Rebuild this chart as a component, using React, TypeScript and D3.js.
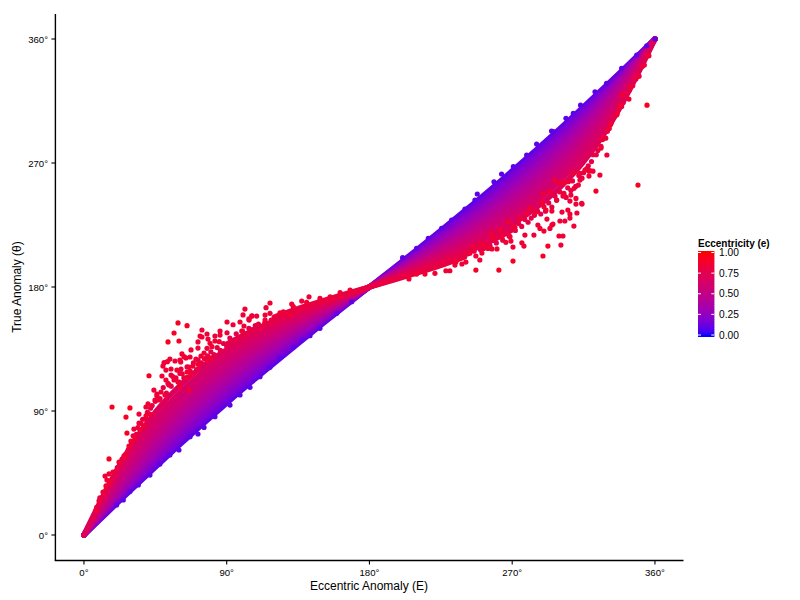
import React from "react";
import * as d3 from "d3";

// Eccentric anomaly grid (degrees) for the dense core of the cloud
const anomalyGrid = [0,10,20,30,45,60,75,90,105,120,135,150,165,180,195,210,225,240,255,270,285,300,315,330,340,350,360];

// True anomaly read along bands of equal colour (null: the band is not solid there)
const band10 = [0,11,22.1,33,49.2,65.1,80.6,95.7,110.5,124.8,138.9,152.8,166.4,180,193.6,207.2,221.1,235.2,249.5,264.3,279.4,294.9,310.8,327,337.9,349,360];
const band15 = [0,11.6,23.2,34.6,51.4,67.8,83.5,98.6,113.2,127.2,140.8,154.1,167.1,180,192.9,205.9,219.2,232.8,246.8,261.4,276.5,292.2,308.6,325.4,336.8,348.4,360];
const band20 = [0,12.2,24.4,36.3,53.8,70.5,86.4,101.5,115.9,129.5,142.6,155.3,167.7,180,192.3,204.7,217.4,230.5,244.1,258.5,273.6,289.5,306.2,323.7,335.6,347.8,360];
const band25 = [0,12.9,25.6,38.2,56.3,73.4,89.5,104.5,118.6,131.8,144.4,156.5,168.4,180,191.6,203.5,215.6,228.2,241.4,255.5,270.5,286.6,303.7,321.8,334.4,347.1,360];
const band30 = [0,13.6,27,40.1,58.9,76.4,92.6,107.5,121.2,134.1,146.2,157.8,169,180,191,202.2,213.8,225.9,238.8,252.5,267.4,283.6,301.1,319.9,333,346.4,360];
const band35 = [0,14.4,28.5,42.2,61.7,79.5,95.8,110.5,123.9,136.3,147.9,158.9,169.6,180,190.4,201.1,212.1,223.7,236.1,249.5,264.2,280.5,298.3,317.8,331.5,345.6,360];
const band40 = [0,15.2,30.1,44.5,64.6,82.8,99.1,113.6,126.7,138.6,149.7,160.1,170.1,180,189.9,199.9,210.3,221.4,233.3,246.4,260.9,277.2,295.4,315.5,329.9,344.8,360];
const band45 = [0,16.2,31.9,47,67.8,86.3,102.4,116.7,129.4,140.8,151.4,161.2,170.7,180,189.3,198.8,208.6,219.2,230.6,243.3,257.6,273.7,292.2,313,328.1,343.8,360];
const band50 = [0,17.2,34,49.8,71.3,90,106.1,120,132.2,143.1,153.1,162.4,171.3,180,188.7,197.6,206.9,216.9,227.8,240,253.9,270,288.7,310.2,326,342.8,360];
const band55 = [0,18.4,36.2,52.9,75.1,94,109.8,123.4,135.1,145.4,154.8,163.6,171.9,180,188.1,196.4,205.2,214.6,224.9,236.6,250.2,266,284.9,307.1,323.8,341.6,360];
const band60 = [0,19.9,38.9,56.4,79.3,98.2,113.8,126.9,138,147.8,156.6,164.7,172.5,180,187.5,195.3,203.4,212.2,222,233.1,246.2,261.8,280.7,303.6,321.1,340.1,360];
const band65 = [0,21.5,41.9,60.4,83.9,102.8,118.1,130.5,141.1,150.2,158.4,165.9,173.1,180,186.9,194.1,201.6,209.8,218.9,229.5,241.9,257.2,276.1,299.6,318.1,338.5,360];
const band70 = [0,23.5,45.5,65.1,89.2,107.9,122.6,134.4,144.3,152.7,160.3,167.2,173.7,180,186.3,192.8,199.7,207.3,215.7,225.6,237.4,252.1,270.8,294.9,314.5,336.5,360];
const band75 = [null,null,null,null,null,null,null,138.6,147.6,155.4,162.2,168.4,174.3,180,185.7,191.6,197.8,204.6,212.4,221.4,null,null,null,null,null,null,null];
const band80 = [null,null,null,null,null,null,null,null,null,158.2,164.3,169.8,175,180,185,190.2,195.7,201.8,null,null,null,null,null,null,null,null,null];

const bandLevels = [0.1,0.15,0.2,0.25,0.3,0.35,0.4,0.45,0.5,0.55,0.6,0.65,0.7,0.75,0.8];
const bandValues = [band10,band15,band20,band25,band30,band35,band40,band45,band50,band55,band60,band65,band70,band75,band80];

// Individually visible points: [E, theta]
const eccLow = 0.1;
const lowPoints = [
[20.6,21.8],[24.8,25.4],[29,31.5],[34.3,36.3],[41.6,43.5],[47.9,51.5],[54.2,58.1],[59.9,61.7],[66.9,71.4],[71.9,73.3],[75.7,78.1],[82.6,85.9],[92.1,94.3],[98.4,101.6],[104.7,107.2],[111,114.9],[117.3,121.7],[123.6,128.9],[132,136.2],[137.3,141.5],[142.5,144.6],[148.8,150],[159.4,160.9],[168.8,169.3],
[200.9,201.3],[209.7,208],[217.1,215.3],[225.5,222.5],[231.8,228.6],[240.2,236.6],[248,247.5],[246.5,243.1],[258.5,256.4],[263.3,262],[270.7,267.3],[279.1,275.8],[285.4,283.7],[294.8,293.2],[295.9,292.7],[303.9,302.4],[308.5,306],[313.1,312],[322.2,321.7],[329.5,327.8],[339,338.7],[348.5,348.3],[354.8,355.1],[360,360]
];

const eccEdge = 0.78;
const edgePoints = [
[6,13],[8,20],[10,27],[12,28],[14,33],[16,37],[18,40],[20,46],[21,49],[23,51],[24,55],[26,56],[28,62],[30,67],[31,72],[33,73],[34,78],[36,81],[37,84],[39,84],[40,89],[42,92],[43,94],[45,97],[46,101],[48,99],[50,107],[52,103],[53,110],[55,108],[56,115],[58,114],[60,111],[62,117],[63,114],[65,122],[67,119],[69,125],[71,120],[72,127],[74,125],[76,128],[78,130],[80,133],[82,131],[84,136],[86,134],[88,139],[90,137],[92,143],[94,140],[96,146],[98,143],[100,148],[102,146],[104,150],[106,149],[108,152],[110,153],[112,151],[114,154],[116,153],[118,156],[120,155],
[354,347],[352,340],[350,333],[348,331],[346,326],[344,323],[342,320],[340,314],[339,311],[337,309],[336,305],[334,304],[332,298],[330,293],[329,288],[327,287],[326,282],[324,279],[323,276],[321,276],[320,271],[318,268],[317,266],[315,263],[314,259],[312,261],[310,253],[308,257],[307,250],[305,252],[304,245],[302,246],[300,249],[298,243],[297,246],[295,238],[293,241],[291,235],[289,240],[288,233],[286,235],[284,232],[282,230],[280,227],[278,229],[276,224],[274,226],[272,221],[270,223],[268,217],[266,220],[264,214],[262,217],[260,212],[258,214],[256,210],[254,211],[252,208],[250,207],[248,209],[246,206],[244,207],[242,204],[240,205]
];

const eccHigh = 0.86;
const highPoints = [
[101.5,164],[100.3,159.7],[74.4,148.8],[77.6,145.9],[73.2,144.4],[74.4,143.7],[78.2,142.2],[71.9,140.1],[71.9,135.7],[67.5,134.3],[79.5,139.1],[80.7,136.7],[77.6,135.5],[82.6,144.4],[85.8,148],[85.8,145.1],[90.2,154.6],[94,152.6],[98.4,154.6],[100.9,151.7],[106,159],[104,156.8],[90.2,146.8],[82.6,140.8],[85.3,140.3],
[61.8,131.4],[63.1,129.4],[64.3,128.5],[66.9,129.2],[70.6,127.7],[73.8,129.9],[75.7,132.1],[77.6,127],[80.1,128.5],[54.2,127.7],[60.5,127],[61,125.6],[57.4,126.3],[50.5,125.1],[52.6,125.8],[49.8,122.6],[51.7,119.7],[54.9,120.5],[58.6,119.7],[61.2,120.5],[66.2,121.9],[68.7,122.6],[71.9,123.9],[49.2,115.4],[51.7,112.5],[54.9,116.1],[56.8,112.5],[60.5,117.3],[65,118.3],[67.5,117.3],[65,114.4],[53.6,108.9],[59.3,111],[60.5,107.4],[66.2,105.2],
[44.1,105.2],[46,102.3],[48.6,103.8],[51.1,101.6],[44.8,98],[47.3,98],[40.4,95.1],[39.1,92.9],[34.7,87.8],[39.1,86.4],[41.6,87.8],[34.7,81.3],[31.5,76.9],[37.9,79.1],[35.3,76.2],[32.2,70.4],[29.6,68.2],[28.4,64.6],[25.9,58.1],[22.1,53],[25.2,57.3],[18.3,45.7],[15.8,44.3],[13.3,42.8],[14.5,39.9],[16.4,39.2],[13.9,35.6],[12,31.2],[9.5,24.7],[7.6,18.1],
[105.8,158.9],[108.9,158.9],[114.8,165],[117.3,168.4],[114.2,159.6],[117.3,160.9],[104.1,156],[99.5,148],[114.2,156],[137.3,169.8],[141.9,172.9],[148.8,171.7],[131,167.6],[125.7,162],[130,159.6],[123.6,161.3],[132,165.7],[140.4,168.8],[155.2,172.9],[161.5,175.9],[167.8,177.8],
[277.4,209.7],[276.1,212.1],[270.5,209],[269.2,213.3],[266,212.4],[263.5,216],[260.4,207.6],[257.2,207.6],[254.7,208],[250.3,211.2],[250.9,204.6],[249.6,199.6],[247.1,202.5],[243.3,204.4],[240.8,198.1],[238.3,196.7],[234.5,198.1],[233.9,195.9],[230.7,191.8],[228.2,191.8],[221.3,189.9],[215,189.4],[209.7,189.4],[204.9,185.8],
[300.7,210.4],[299.5,217],[302,217],[283.7,217.7],[308.9,224.2],[300.1,227.9],[303.2,227.9],[314,240.2],[310.2,240.2],[310.8,233.7],[307,246.7],[306.4,242.4],[302.6,247.9],[306.4,232.9],[306.4,230],[301.4,234.4],[305.1,235.8],[295,225],[295.7,225.7],[293.8,222.5],[290,220.6],[287.5,222.5],[286.2,225],[291.9,229.3],[295,235.1],[290,238.3],[291.3,235.8],[285,234.4],
[271.7,223.3],[267.5,227.4],[279.1,233.4],[274.9,229.8],[281.2,237],[278,217.7],[268.6,216.5],[257,218.9],[258,215.3],[262.3,221.3],[251.7,210.4],[245.4,209.2],[319,264.4],[312.7,262.5],[308.5,262.5],[311.7,254],[303.2,256.4],[300.1,255.2],[296.9,257.6],[293.8,249.1],[298,243.1],[288.5,241.9],[289.6,247.9],
[325.3,261.2],[329.7,275.8],[326,280.8],[320.9,264.1],[318.4,264.1],[315.9,264.9],[318.4,260.5],[313.8,240.7],[310.2,244.3],[302.6,246.7],[309,251.6],[312.7,257.6],[305.4,256.4],[343.6,316.4],[337.9,312.5],[336.1,306],[332.3,298.8],[331.2,295.1],[327.4,287.9],[339,319.3],[344.2,325.4],[348.9,332.6],[353.3,341.1],[356.2,347.8]
];

const eccFar = 0.93;
const farPoints = [
[59.3,153.9],[65,151.9],[56.8,146.6],[53,140.1],[59.9,140.8],[41,115.6],[17.7,92.9],[29,92.2],[26.5,85.6],[27.1,74],[15.8,55.2],
[247.1,192.3],[261.6,192.3],[270.5,198.8],[289.4,202.5],[292.5,209.7],[322.8,249.6],[355,312],[349.3,254]
];

const xTicks = [0,90,180,270,360];
const yTicks = [0,90,180,270,360];
const legendTicks = [0,0.25,0.5,0.75,1];
const legendSteps = d3.range(0, 1.0001, 0.02);

const xTitle = "Eccentric Anomaly (E)";
const yTitle = "True Anomaly (\u03B8)";
const legendTitle = "Eccentricity (e)";

const font = "'Liberation Sans', Arial, sans-serif";

export default function App() {
  const x = d3.scaleLinear().domain([-18, 378]).range([55.4, 683.5]);
  const y = d3.scaleLinear().domain([-18, 378]).range([559.8, 14.2]);
  const colour = d3.scaleLinear<string>().domain([0, 1]).range(["#0000ff", "#ff0000"]).interpolate(d3.interpolateLab);
  const legendY = d3.scaleLinear().domain([0, 1]).range([335, 252.5]);
  const line = d3.line<number | null>()
    .defined((d) => d !== null)
    .x((_, i) => x(anomalyGrid[i]))
    .y((d) => y(d as number))
    .curve(d3.curveMonotoneX);
  const diamond = d3.symbol().type(d3.symbolDiamond2).size(26)() as string;
  const dots = (pts: number[][], e: number, key: string) =>
    pts.map((p, i) => (
      <circle key={key + i} cx={x(p[0])} cy={y(p[1])} r={2.6} fill={colour(e)} />
    ));
  return (
    <svg width={800} height={600} style={{ position: "absolute", left: 0, top: 0, background: "#fff" }} fontFamily={font}>
      {/* dense core */}
      <g fill="none" strokeLinecap="round" strokeLinejoin="round">
        {bandValues.map((vals, i) => (
          <path key={i} d={line(vals) as string} stroke={colour(bandLevels[i])} strokeWidth={5.4} />
        ))}
      </g>
      {dots(lowPoints, eccLow, "l")}
      {dots(edgePoints, eccEdge, "e")}
      {dots(highPoints, eccHigh, "h")}
      {dots(farPoints, eccFar, "f")}

      {/* axes */}
      <g stroke="#000" strokeWidth={1.4} fill="none">
        <line x1={55.4} x2={55.4} y1={14} y2={560.5} />
        <line x1={54.7} x2={683.5} y1={560.5} y2={560.5} />
        {xTicks.map((t) => <line key={t} x1={x(t)} x2={x(t)} y1={560.5} y2={564.5} strokeWidth={1.1} />)}
        {yTicks.map((t) => <line key={t} x1={51.4} x2={55.4} y1={y(t)} y2={y(t)} strokeWidth={1.1} />)}
      </g>
      <g fontSize={9.6} fill="#000">
        {xTicks.map((t) => <text key={t} x={x(t)} y={576} textAnchor="middle">{t}°</text>)}
        {yTicks.map((t) => <text key={t} x={48} y={y(t) + 3.5} textAnchor="end">{t}°</text>)}
      </g>
      <text x={369} y={590} fontSize={12} textAnchor="middle" fill="#000">{xTitle}</text>
      <text transform="translate(21,287) rotate(-90)" fontSize={12} textAnchor="middle" fill="#000">{yTitle}</text>

      {/* legend */}
      <text x={698} y={246.5} fontSize={10} fontWeight="bold" fill="#000">{legendTitle}</text>
      {legendSteps.map((v) => (
        <rect key={v} x={698} width={16.3} y={legendY(v) - 1.2} height={2.6} fill={colour(v)} />
      ))}
      <rect x={698} width={16.3} y={251} height={2} fill={colour(1)} />
      <rect x={698} width={16.3} y={335} height={2} fill={colour(0)} />
      {legendTicks.map((t) => (
        <g key={t} stroke="#fff" strokeWidth={1}>
          <line x1={698} x2={701} y1={legendY(t)} y2={legendY(t)} />
          <line x1={711.3} x2={714.3} y1={legendY(t)} y2={legendY(t)} />
        </g>
      ))}
      <g fontSize={10.2} fill="#000">
        {legendTicks.map((t) => <text key={t} x={719} y={legendY(t) + 3.7}>{t.toFixed(2)}</text>)}
      </g>
    </svg>
  );
}
